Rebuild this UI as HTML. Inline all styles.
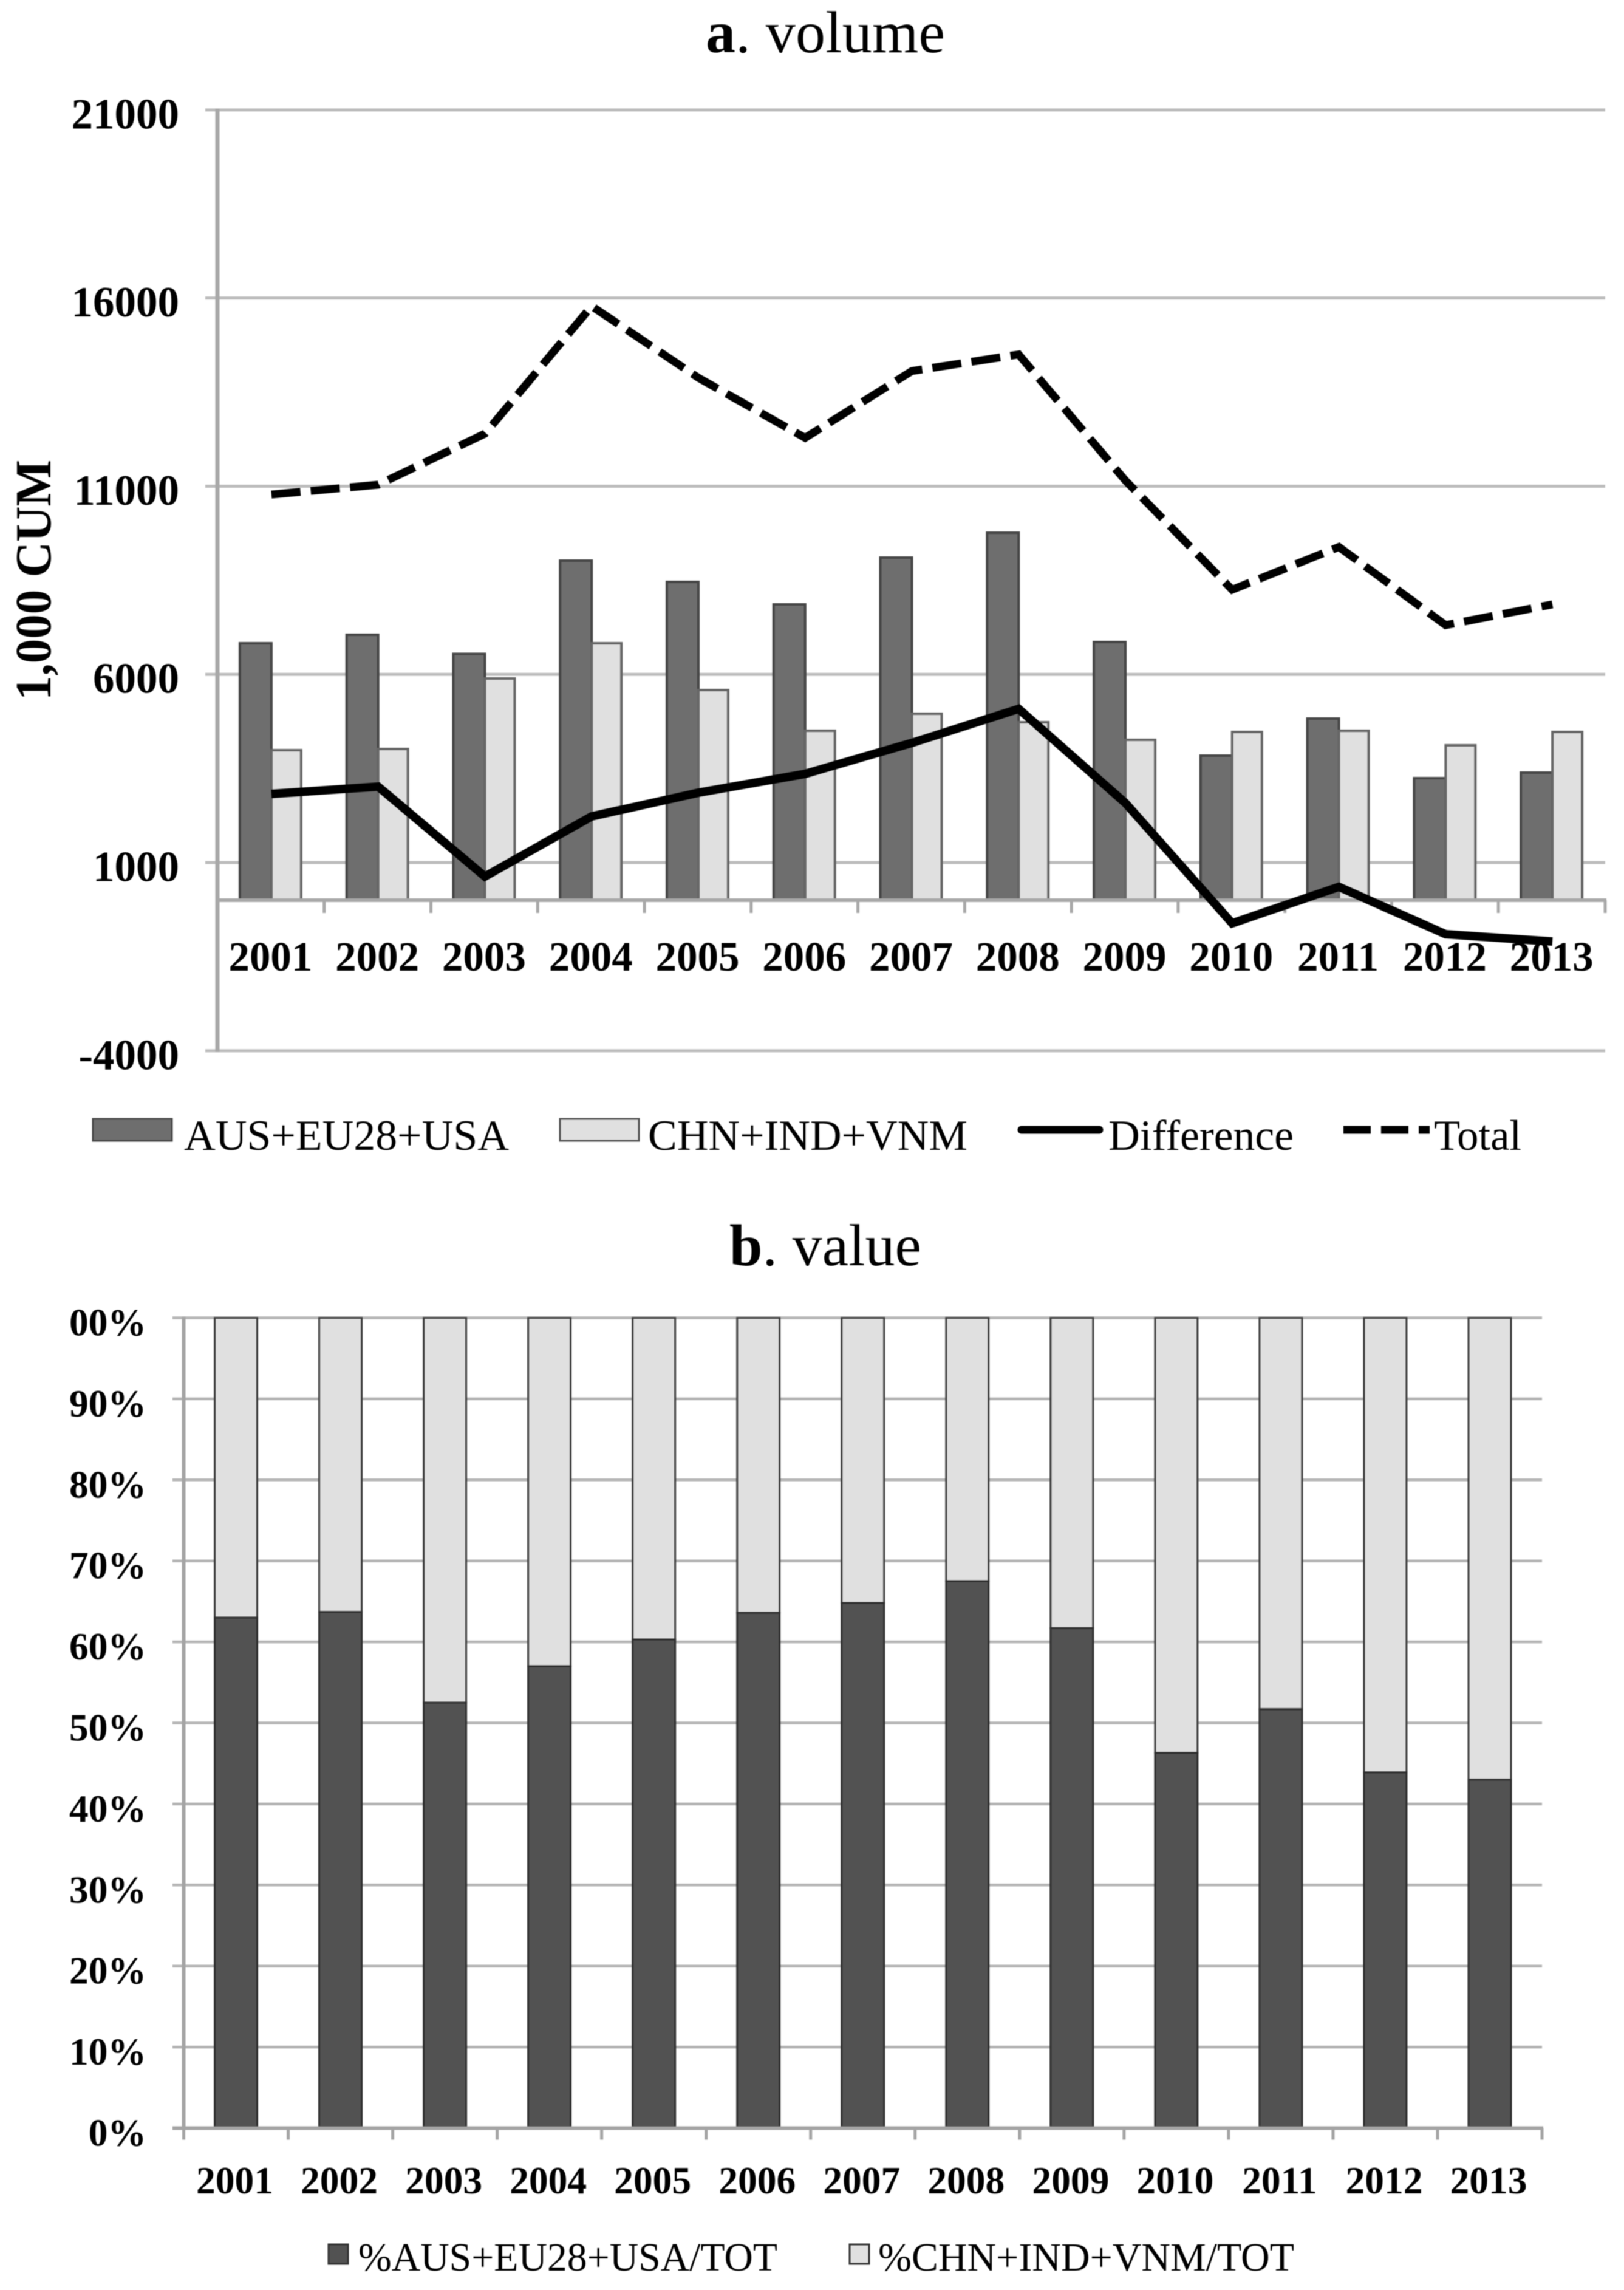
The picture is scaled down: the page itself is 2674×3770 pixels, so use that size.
<!DOCTYPE html>
<html>
<head>
<meta charset="utf-8">
<title>Volume and value charts</title>
<style>
  html, body { margin: 0; padding: 0; background: #fff; }
  body { width: 2674px; height: 3770px; overflow: hidden; }
  svg { display: block; filter: blur(0.9px); }
  text { font-family: "Liberation Serif", serif; fill: #000; }
  .tick { font-weight: bold; }
</style>
</head>
<body>
<svg id="figure" xmlns="http://www.w3.org/2000/svg" width="2674" height="3770" viewBox="0 0 2674 3770">
  <rect x="0" y="0" width="2674" height="3770" fill="#fff"/>

  <text x="1162" y="86" font-size="98" textLength="394"><tspan font-weight="bold">a</tspan>. volume</text>
  <text class="tick" font-size="73" textLength="396" lengthAdjust="spacingAndGlyphs" transform="translate(83,1153) rotate(-90) scale(1,1.15)">1,000 CUM</text>
  <g id="chart-a"></g>

  <g>
    <rect x="153" y="1842" width="130" height="36" fill="#6e6e6e" stroke="#4a4a4a" stroke-width="3"/>
    <text x="303" y="1893" font-size="71" textLength="535" lengthAdjust="spacingAndGlyphs">AUS+EU28+USA</text>
    <rect x="922" y="1842" width="130" height="36" fill="#e0e0e0" stroke="#555" stroke-width="3"/>
    <text x="1067" y="1893" font-size="71" textLength="526" lengthAdjust="spacingAndGlyphs">CHN+IND+VNM</text>
    <line x1="1682" y1="1860" x2="1810" y2="1860" stroke="#000" stroke-width="13" stroke-linecap="round"/>
    <text x="1825" y="1893" font-size="71" textLength="305" lengthAdjust="spacingAndGlyphs">Difference</text>
    <line x1="2212" y1="1860" x2="2354" y2="1860" stroke="#000" stroke-width="13" stroke-dasharray="45 17"/>
    <text x="2361" y="1893" font-size="71" textLength="144" lengthAdjust="spacingAndGlyphs">Total</text>
  </g>

  <text x="1201" y="2083" font-size="98" textLength="316"><tspan font-weight="bold">b</tspan>. value</text>
  <g id="chart-b"></g>

  <g>
    <rect x="541" y="3695" width="32" height="32" fill="#525252" stroke="#333" stroke-width="3"/>
    <text x="590" y="3738" font-size="65.5" textLength="690" lengthAdjust="spacingAndGlyphs">%AUS+EU28+USA/TOT</text>
    <rect x="1399" y="3695" width="32" height="32" fill="#e0e0e0" stroke="#333" stroke-width="3"/>
    <text x="1446" y="3738" font-size="65.5" textLength="685" lengthAdjust="spacingAndGlyphs">%CHN+IND+VNM/TOT</text>
  </g>
</svg>

<script>
const years = ['2001','2002','2003','2004','2005','2006','2007','2008','2009','2010','2011','2012','2013'];

/* Chart a: volume, 1,000 CUM */
const volumeTicks = [21000, 16000, 11000, 6000, 1000, -4000];
const developedVolume = [6827, 7053, 6545, 9022, 8457, 7860, 9103, 9764, 6859, 3841, 4826, 3244, 3390];
const emergingVolume = [3987, 4019, 5891, 6827, 5584, 4503, 4955, 4729, 4261, 4471, 4503, 4116, 4471];
const differenceVolume = [2824, 3018, 629, 2227, 2857, 3357, 4180, 5084, 2582, -613, 355, -904, -1097];
const totalVolume = [10780, 11040, 12395, 15785, 13880, 12285, 14060, 14500, 11153, 8250, 9385, 7310, 7860];

/* Chart b: value shares, percent */
const shareTicks = [100, 90, 80, 70, 60, 50, 40, 30, 20, 10, 0];
const shareTickLabels = ['00%', '90%', '80%', '70%', '60%', '50%', '40%', '30%', '20%', '10%', '0%'];
const developedShare = [63.0, 63.7, 52.5, 57.0, 60.3, 63.6, 64.8, 67.5, 61.7, 46.3, 51.7, 43.9, 43.0];

const SVGNS = 'http://www.w3.org/2000/svg';

function mk(parent, tag, attrs, txt) {
  const el = document.createElementNS(SVGNS, tag);
  for (const k in attrs) el.setAttribute(k, attrs[k]);
  if (txt !== undefined) el.textContent = txt;
  parent.appendChild(el);
  return el;
}

/* ---------- chart a ---------- */
(function () {
  const root = document.getElementById('chart-a');
  const left = 358, right = 2643;
  const band = (right - left) / years.length;
  const xCenter = function (i) { return left + band * (i + 0.5) + 1; };
  const y = function (v) { return 1482 - v * (309.8 / 5000); };
  const barBase = y(0) - 1;
  const axisY = y(0);

  volumeTicks.forEach(function (t) {
    const g = mk(root, 'line', { x1: 338, x2: right, y1: y(t), y2: y(t), stroke: '#bcbcbc', 'stroke-width': 5 });
    
    
    const lb = mk(root, 'text', { class: 'tick', x: 295, y: y(t) + 30.5, 'font-size': 71, 'text-anchor': 'end' }, String(t));
    
    
  });

  years.forEach(function (yr, i) {
    const c = xCenter(i);
    const d = mk(root, 'rect', { x: c - 52, y: y(developedVolume[i]), width: 52, height: barBase - y(developedVolume[i]), fill: '#6e6e6e', stroke: '#454545', 'stroke-width': 4 });
    
    
    const e = mk(root, 'rect', { x: c, y: y(emergingVolume[i]), width: 49, height: barBase - y(emergingVolume[i]), fill: '#e0e0e0', stroke: '#666', 'stroke-width': 4 });
    
    
  });

  const vAxis = mk(root, 'line', { x1: left, x2: left, y1: y(21000) - 2, y2: y(-4000) + 2, stroke: '#a8a8a8', 'stroke-width': 7 });
  
  
  const hAxis = mk(root, 'line', { x1: left, x2: right + 2, y1: axisY, y2: axisY, stroke: '#a8a8a8', 'stroke-width': 6 });
  
  

  for (let i = 0; i <= years.length; i++) {
    const tx = left + band * i;
    const tk = mk(root, 'line', { x1: tx, x2: tx, y1: axisY, y2: axisY + 21, stroke: '#a8a8a8', 'stroke-width': 5 });
    
    
  }

  years.forEach(function (yr, i) {
    const lb = mk(root, 'text', { class: 'tick', x: xCenter(i) - 1.5, y: 1598, 'font-size': 69, 'text-anchor': 'middle' }, yr);
    
    
  });

  const pts = function (arr) { return arr.map(function (v, i) { return xCenter(i).toFixed(1) + ',' + y(v).toFixed(1); }).join(' '); };

  const total = mk(root, 'polyline', { points: pts(totalVolume), fill: 'none', stroke: '#000', 'stroke-width': 13, 'stroke-dasharray': '48 17', 'stroke-linejoin': 'miter' });
  
  

  const diff = mk(root, 'polyline', { points: pts(differenceVolume), fill: 'none', stroke: '#000', 'stroke-width': 14, 'stroke-linejoin': 'miter' });
  
  
})();

/* ---------- chart b ---------- */
(function () {
  const root = document.getElementById('chart-b');
  const left = 302.5, right = 2539;
  const band = (right - left) / years.length;
  const barW = 70;
  const xCenter = function (i) { return left + band * (i + 0.5); };
  const y = function (v) { return 3503.5 - v * 13.34; };

  shareTicks.forEach(function (t, k) {
    const g = mk(root, 'line', { x1: 284, x2: right, y1: y(t), y2: y(t), stroke: '#b4b4b4', 'stroke-width': 4.5 });
    
    
    const lb = mk(root, 'text', { class: 'tick', x: 241, y: y(t) + 29, 'font-size': 63.5, 'text-anchor': 'end' }, shareTickLabels[k]);
    
    
  });

  years.forEach(function (yr, i) {
    const c = xCenter(i);
    const lt = mk(root, 'rect', { x: c - barW / 2, y: y(100), width: barW, height: y(developedShare[i]) - y(100), fill: '#e0e0e0', stroke: '#3c3c3c', 'stroke-width': 3 });
    
    
    const dk = mk(root, 'rect', { x: c - barW / 2, y: y(developedShare[i]), width: barW, height: y(0) - y(developedShare[i]) - 2, fill: '#525252', stroke: '#2e2e2e', 'stroke-width': 3 });
    
    
  });

  const vAxis = mk(root, 'line', { x1: left, x2: left, y1: y(100) - 2, y2: y(0) + 2, stroke: '#a4a4a4', 'stroke-width': 6 });
  
  
  const hAxis = mk(root, 'line', { x1: 284, x2: right + 2, y1: y(0), y2: y(0), stroke: '#a4a4a4', 'stroke-width': 6 });
  
  

  for (let i = 0; i <= years.length; i++) {
    const tx = left + band * i;
    const tk = mk(root, 'line', { x1: tx, x2: tx, y1: y(0), y2: y(0) + 19, stroke: '#a4a4a4', 'stroke-width': 5 });
    
    
  }

  years.forEach(function (yr, i) {
    const lb = mk(root, 'text', { class: 'tick', x: xCenter(i) - 2, y: 3611, 'font-size': 63.5, 'text-anchor': 'middle' }, yr);
    
    
  });
})();
</script>
</body>
</html>
